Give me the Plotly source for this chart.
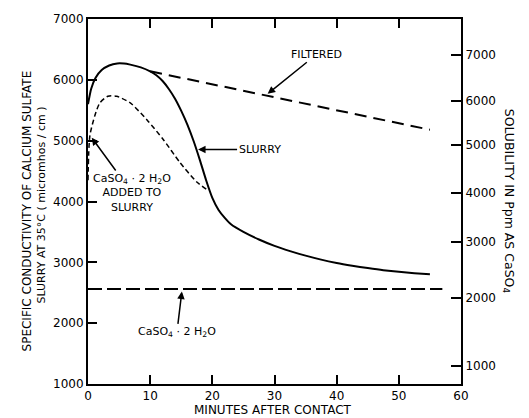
import plotly.graph_objects as go

# ---- data ----
minutes_slurry = [0, 0.5, 1.2, 2.2, 3.4, 4.7, 5.8, 6.8, 8.5, 10, 11, 12, 13, 14, 15,
                  16, 17, 18, 19, 20, 21, 22, 23, 25, 27.5, 30, 32.5, 35,
                  37.5, 40, 42.5, 45, 47.5, 50, 52.5, 55]
slurry = [5600, 5850, 6030, 6160, 6235, 6270, 6268, 6250, 6205, 6140, 6075, 5980, 5850,
          5690, 5490, 5260, 4990, 4680, 4350, 4060, 3860, 3730, 3625, 3500, 3375, 3270, 3185, 3110,
          3045, 2990, 2945, 2905, 2870, 2845, 2822, 2805]

minutes_filtered = [10, 55]
filtered = [6140, 5180]

minutes_added = [0, 0.3, 1.1, 1.9, 3.2, 4.6, 6.8, 9.5, 12.1, 14.8, 17.5, 19.2]
added = [4350, 5080, 5410, 5620, 5730, 5730, 5620, 5340, 5020, 4640, 4320, 4190]

minutes_gypsum = [0, 57]
gypsum = [2560, 2560]

x_ticks = [0, 10, 20, 30, 40, 50, 60]
y_ticks = [1000, 2000, 3000, 4000, 5000, 6000, 7000]
# right (solubility) axis: labels and the conductivity values they sit at
sol_labels = ["1000", "2000", "3000", "4000", "5000", "6000", "7000"]
sol_positions = [1293, 2415, 3341, 4138, 4935, 5650, 6415]

FONT = "DejaVu Sans"
BLACK = "black"

fig = go.Figure()
fig.add_trace(go.Scatter(x=minutes_slurry, y=slurry, mode="lines", line_shape="spline",
                         line=dict(color=BLACK, width=2, smoothing=0.5), showlegend=False))
fig.add_trace(go.Scatter(x=minutes_filtered, y=filtered, mode="lines",
                         line=dict(color=BLACK, width=2, dash="12px,7px"), showlegend=False))
fig.add_trace(go.Scatter(x=minutes_added, y=added, mode="lines", line_shape="spline",
                         line=dict(color=BLACK, width=1.5, dash="5px,3px", smoothing=0.7),
                         showlegend=False))
fig.add_trace(go.Scatter(x=minutes_gypsum, y=gypsum, mode="lines",
                         line=dict(color=BLACK, width=2, dash="14px,5px"), showlegend=False))
# invisible trace so the right axis is drawn
fig.add_trace(go.Scatter(x=[0], y=[1000], yaxis="y2", mode="markers",
                         marker=dict(opacity=0), showlegend=False, hoverinfo="skip"))

tickfont = dict(family=FONT, size=12, color=BLACK)
fig.update_layout(
    width=529, height=418,
    margin=dict(l=88, r=68, t=15, b=34),
    paper_bgcolor="white", plot_bgcolor="white",
    xaxis=dict(range=[0, 60], tickvals=x_ticks, ticks="inside", ticklen=9, tickwidth=2,
               tickcolor=BLACK, showline=True, linewidth=2, linecolor=BLACK, mirror="ticks",
               showgrid=False, zeroline=False, tickfont=tickfont),
    yaxis=dict(range=[1000, 7000], tickvals=y_ticks, ticks="inside", ticklen=9, tickwidth=2,
               tickcolor=BLACK, showline=True, linewidth=2, linecolor=BLACK,
               showgrid=False, zeroline=False, tickfont=tickfont),
    yaxis2=dict(range=[1000, 7000], overlaying="y", side="right", anchor="x",
                tickvals=sol_positions, ticktext=sol_labels, ticks="inside", ticklen=10,
                tickwidth=2, tickcolor=BLACK, showline=True, linewidth=2, linecolor=BLACK,
                showgrid=False, zeroline=False, tickfont=tickfont),
)

ann_font = dict(family=FONT, size=11, color=BLACK)
arrow = dict(showarrow=True, arrowhead=2, arrowsize=1, arrowwidth=1.5, arrowcolor=BLACK,
             axref="x", ayref="y", font=ann_font)
annotations = [
    # axis titles
    dict(text="MINUTES AFTER CONTACT", xref="paper", yref="paper", x=0.495, y=-0.072,
         xanchor="center", yanchor="middle", showarrow=False, font=dict(family=FONT, size=12, color=BLACK)),
    dict(text="SPECIFIC CONDUCTIVITY OF CALCIUM SULFATE", xref="paper", yref="paper",
         x=-0.164, y=0.475, xanchor="center", yanchor="middle", textangle=-90,
         showarrow=False, font=dict(family=FONT, size=12, color=BLACK)),
    dict(text="SLURRY AT 35°C ( micromhos / cm )", xref="paper", yref="paper",
         x=-0.125, y=0.49, xanchor="center", yanchor="middle", textangle=-90,
         showarrow=False, font=dict(family=FONT, size=11, color=BLACK)),
    dict(text="SOLUBILITY IN Ppm AS CaSO<sub>4</sub>", xref="paper", yref="paper",
         x=1.128, y=0.50, xanchor="center", yanchor="middle", textangle=90,
         showarrow=False, font=dict(family=FONT, size=12.5, color=BLACK)),
    # labels with arrows (x, y = arrow head; ax, ay = text centre)
    dict(text="FILTERED", x=28.9, y=5770, ax=36.8, ay=6420, **arrow),
    dict(text="SLURRY", x=17.7, y=4854, ax=27.6, ay=4854, **arrow),
    dict(text="CaSO<sub>4</sub> · 2 H<sub>2</sub>O<br>ADDED TO<br>SLURRY", x=0.6, y=5050,
         ax=7.1, ay=4140, **arrow),
    dict(text="CaSO<sub>4</sub> · 2 H<sub>2</sub>O", x=15.1, y=2520, ax=14.3, ay=1850, **arrow),
]
fig.update_layout(annotations=annotations)

fig.write_html("out.html")
